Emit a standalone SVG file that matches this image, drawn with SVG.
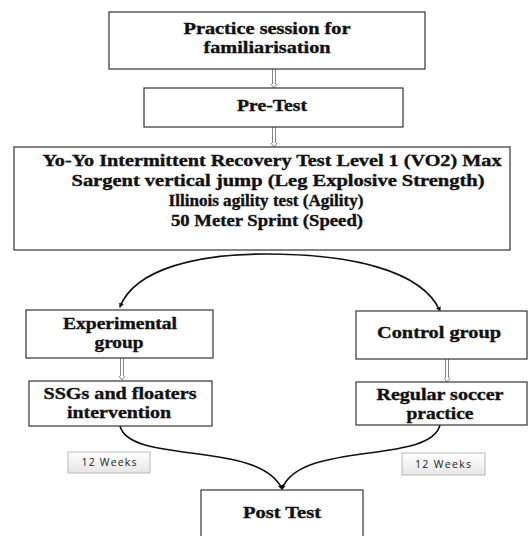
<svg xmlns="http://www.w3.org/2000/svg" width="530" height="536" viewBox="0 0 530 536">
<style>
.box{fill:#fff;stroke:#333;stroke-width:1.2}
.t{font-family:"Liberation Serif","Times New Roman",serif;font-weight:bold;font-size:16px;fill:#111;stroke:#111;stroke-width:0.35;text-anchor:middle}
.wk{fill:url(#g);stroke:#b8b8b8;stroke-width:1}
.wt{font-family:"Open Sans","Liberation Sans",sans-serif;font-size:10.5px;fill:#222;text-anchor:middle}
.hol{fill:none;stroke:#777;stroke-width:0.9}
.cv{fill:none;stroke:#111;stroke-width:1.6;marker-end:url(#ah)}
</style>
<defs>
<linearGradient id="g" x1="0" y1="0" x2="0" y2="1"><stop offset="0" stop-color="#fff"/><stop offset="1" stop-color="#e6e6e6"/></linearGradient>
<marker id="ah" viewBox="0 0 10 10" refX="8" refY="5" markerWidth="5" markerHeight="5" orient="auto" markerUnits="userSpaceOnUse"><path d="M0 0 L10 5 L0 10 Z" fill="#111"/></marker>
</defs>
<rect width="530" height="536" fill="#fff"/>
<g id="connectors">
<path class="hol" d="M272.5 69 V84 M275.5 69 V84 M271 84 L274 88 L277 84"/>
<path class="hol" d="M272.5 127 V143 M275.5 127 V143 M271 143 L274 147 L277 143"/>
<path class="hol" d="M120.5 358 V376 M123.5 358 V376 M119 376 L122 380 L125 376"/>
<path class="hol" d="M445.5 359 V378 M448.5 359 V378 M444 378 L447 382 L450 378"/>
<path class="cv" d="M265 254 C200 254,135 268,120 307"/>
<path class="cv" d="M265 254 C350 254,422 270,440 311"/>
<path class="cv" d="M120 426 C130 465,260 440,282 489"/>
<path class="cv" d="M440 425 C430 465,300 440,282 489"/>
</g>
<g id="n1"><rect class="box" x="109" y="12" width="316" height="57"/>
<text class="t" x="267" y="34" textLength="167" lengthAdjust="spacingAndGlyphs">Practice session for</text>
<text class="t" x="267" y="53" textLength="127" lengthAdjust="spacingAndGlyphs">familiarisation</text></g>
<g id="n2"><rect class="box" x="144" y="88" width="259" height="39"/>
<text class="t" x="272" y="111" textLength="70" lengthAdjust="spacingAndGlyphs">Pre-Test</text></g>
<g id="n3"><rect class="box" x="14" y="147" width="496" height="103"/>
<text class="t" x="272" y="166" textLength="459" lengthAdjust="spacingAndGlyphs">Yo-Yo Intermittent  Recovery Test Level 1 (VO2) Max</text>
<text class="t" x="278" y="186" textLength="413" lengthAdjust="spacingAndGlyphs">Sargent vertical jump (Leg Explosive Strength)</text>
<text class="t" x="266" y="206" textLength="195" lengthAdjust="spacingAndGlyphs">Illinois agility test (Agility)</text>
<text class="t" x="267" y="226" textLength="192" lengthAdjust="spacingAndGlyphs">50 Meter Sprint (Speed)</text></g>
<g id="n4"><rect class="box" x="26" y="310" width="187" height="48"/>
<text class="t" x="120" y="329" textLength="114" lengthAdjust="spacingAndGlyphs">Experimental</text>
<text class="t" x="119" y="348" textLength="49" lengthAdjust="spacingAndGlyphs">group</text></g>
<g id="n5"><rect class="box" x="356" y="311" width="171" height="48"/>
<text class="t" x="439" y="338" textLength="124" lengthAdjust="spacingAndGlyphs">Control group</text></g>
<g id="n6"><rect class="box" x="29" y="381" width="183" height="45"/>
<text class="t" x="120" y="399" textLength="153" lengthAdjust="spacingAndGlyphs">SSGs and floaters</text>
<text class="t" x="119" y="418" textLength="104" lengthAdjust="spacingAndGlyphs">intervention</text></g>
<g id="n7"><rect class="box" x="356" y="382" width="171" height="43"/>
<text class="t" x="440" y="400" textLength="127" lengthAdjust="spacingAndGlyphs">Regular soccer</text>
<text class="t" x="440" y="419" textLength="67" lengthAdjust="spacingAndGlyphs">practice</text></g>
<g id="w1"><rect class="wk" x="68" y="452" width="82" height="21"/>
<text class="wt" x="109" y="466" textLength="55" lengthAdjust="spacing">12 Weeks</text></g>
<g id="w2"><rect class="wk" x="402" y="453" width="83" height="22"/>
<text class="wt" x="443" y="467.5" textLength="56" lengthAdjust="spacing">12 Weeks</text></g>
<g id="n8"><rect class="box" x="201" y="490" width="162" height="52"/>
<text class="t" x="282" y="518" textLength="78" lengthAdjust="spacingAndGlyphs">Post Test</text></g>
</svg>
